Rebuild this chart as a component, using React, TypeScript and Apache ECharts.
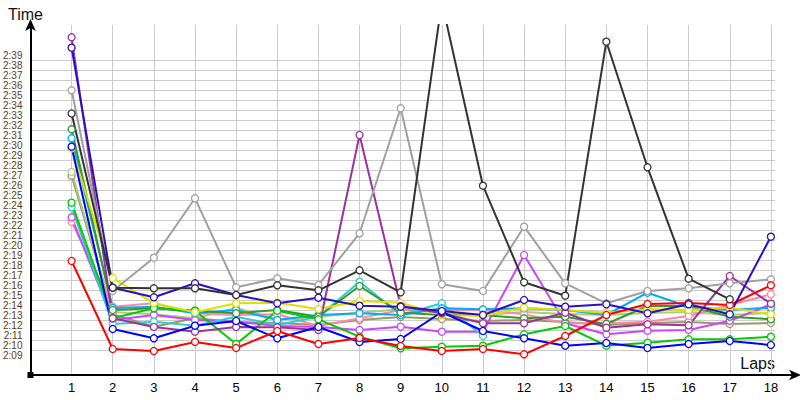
import React, { useEffect, useRef } from "react";
import * as echarts from "echarts";

const laps = [1, 2, 3, 4, 5, 6, 7, 8, 9, 10, 11, 12, 13, 14, 15, 16, 17, 18];

// lap times in seconds
const red = [138.4, 129.6, 129.4, 130.3, 129.7, 131.4, 130.1, 130.7, 129.9, 129.4, 129.6, 129.07, 130.9, 133.0, 134.1, 134.2, 134.0, 135.97];
const blue = [149.83, 131.6, 130.67, 131.93, 132.4, 130.67, 131.8, 130.3, 130.6, 133.3, 131.4, 130.67, 129.93, 130.2, 129.7, 130.1, 130.4, 130.0];
const darkBlue = [159.73, 135.73, 134.77, 136.17, 135.0, 134.17, 134.73, 133.93, 133.83, 133.4, 133.0, 134.5, 133.83, 134.07, 133.17, 134.07, 133.07, 140.83];
const black = [153.15, 135.73, 135.67, 135.67, 135.0, 135.97, 135.47, 137.47, 135.27, 164.3, 145.93, 136.27, 134.93, 160.33, 147.77, 136.63, 134.57, null];
const gray = [155.47, 135.4, 138.73, 144.67, 135.77, 136.67, 136.0, 141.17, 153.67, 136.07, 135.4, 141.83, 136.17, 134.17, 135.4, 135.67, 136.17, 136.57];
const purple = [160.77, 132.67, 131.8, 131.33, 131.8, 131.77, 131.5, 151.0, 133.9, 133.17, 132.17, 132.17, 133.23, 131.73, 132.07, 131.97, 136.9, 134.13];
const violet = [142.77, 132.5, 133.0, 132.5, 132.33, 131.9, 131.8, 131.5, 131.83, 131.33, 131.33, 139.0, 132.17, 131.07, 131.43, 131.5, 132.43, 134.07];
const pink = [142.33, 133.83, 134.17, 133.17, 133.0, 133.07, 131.9, 132.67, 133.5, 133.5, 133.5, 133.07, 132.17, 132.17, 132.33, 132.9, 134.0, 135.07];
const cyan = [143.77, 132.1, 132.33, 131.93, 132.83, 132.0, 132.83, 136.33, 133.0, 134.17, 130.9, null, null, null, null, null, null, null];
const lightBlue = [150.67, 133.7, 133.83, 133.17, 133.5, 132.5, 133.0, 133.17, 133.0, 133.67, 133.57, 133.67, 133.5, 133.0, 135.23, 133.83, 133.5, 133.73];
const yellow = [149.67, 136.7, 134.17, 133.27, 134.17, 134.23, 133.6, 134.4, 134.23, 133.0, 132.9, 133.73, 133.5, 133.23, 133.57, 133.5, 133.73, 133.07];
const darkGreen = [151.57, 133.5, 133.67, 133.43, 133.17, 133.5, 132.83, 135.9, 133.23, 133.0, 133.0, 132.67, 132.83, 132.1, 133.9, 133.9, 132.83, 132.57];
const green = [144.23, 132.67, 133.67, 133.43, 130.1, 133.43, 132.57, 130.83, 129.67, 129.83, 129.93, 131.07, 131.9, 129.93, 130.23, 130.57, 130.57, 130.83];
const lightOlive = [147.3, 133.3, 133.07, 132.67, 133.7, 132.57, 132.83, 133.23, 133.57, 133.2, 133.0, 133.3, 133.1, 133.0, 133.2, 133.3, 133.0, 133.2];
const olive = [146.93, 133.07, 131.83, 132.67, 132.3, 132.2, 132.0, 132.5, 132.8, 132.6, 132.4, 132.5, 132.3, 132.0, 132.2, 132.3, 132.1, 132.2];

const seriesDefs: [string, (number | null)[], string][] = [
  ["Olive", olive, "#999966"],
  ["Light olive", lightOlive, "#b0cc77"],
  ["Pink", pink, "#ff88aa"],
  ["Violet", violet, "#cc44ff"],
  ["Cyan", cyan, "#33cccc"],
  ["Light blue", lightBlue, "#00aaff"],
  ["Dark green", darkGreen, "#339933"],
  ["Green", green, "#00cc00"],
  ["Yellow", yellow, "#e0e000"],
  ["Purple", purple, "#993399"],
  ["Gray", gray, "#a0a0a0"],
  ["Blue", blue, "#0000ff"],
  ["Red", red, "#ff0000"],
  ["Dark blue", darkBlue, "#2a10c0"],
  ["Black", black, "#333333"],
];

const fmt = (v: number) => {
  const m = Math.floor(v / 60);
  const s = Math.round(v - m * 60);
  return m + ":" + String(s).padStart(2, "0");
};

export default function App() {
  const ref = useRef<HTMLDivElement>(null);
  useEffect(() => {
    if (!ref.current) return;
    document.body.style.margin = "0";
    const chart = echarts.init(ref.current, null, { renderer: "svg" });
    const font = "'Liberation Sans', Arial, sans-serif";
    const lapsText = {
      type: "text",
      right: 25,
      top: 355,
      style: { text: "Laps", fill: "#111", font: "16px " + font },
    };
    chart.setOption({
      animation: false,
      backgroundColor: "#ffffff",
      textStyle: { fontFamily: font },
      grid: [
        { left: 30, top: 25, right: 5, bottom: 25 },
        { left: 30, top: 60, width: 745, height: 290 },
      ],
      xAxis: [
        {
          type: "value",
          gridIndex: 0,
          min: 0,
          max: 18.586,
          interval: 1,
          axisLine: {
            show: true,
            lineStyle: { color: "#000", width: 2 },
            symbol: ["none", "arrow"],
            symbolSize: [8, 12],
            symbolOffset: [0, 6],
          },
          axisTick: { show: false },
          axisLabel: {
            fontSize: 13,
            color: "#000",
            margin: 6,
            formatter: (v: number) => (v >= 1 && v <= 18 ? String(v) : ""),
          },
          splitLine: { show: true, showMaxLine: false, lineStyle: { color: "#cccccc", width: 1 } },
        },
        {
          type: "value",
          gridIndex: 1,
          min: 0,
          max: 1,
          show: false,
          splitLine: { show: false },
        },
      ],
      yAxis: [
        {
          type: "value",
          gridIndex: 0,
          min: 127,
          max: 162,
          interval: 1,
          name: "Time",
          nameLocation: "end",
          nameGap: 3,
          nameTextStyle: { fontSize: 16, color: "#111", padding: [0, 10, 0, 0], fontFamily: font },
          axisLine: {
            show: true,
            lineStyle: { color: "#000", width: 2 },
            symbol: ["none", "arrow"],
            symbolSize: [8, 12],
            symbolOffset: [0, 6],
          },
          axisTick: { show: false },
          axisLabel: {
            fontSize: 10,
            color: "#5a4020",
            margin: 8,
            formatter: (v: number) => (v >= 129 && v <= 159 ? fmt(v) : ""),
          },
          splitLine: { show: false },
        },
        {
          type: "value",
          gridIndex: 1,
          min: 0,
          max: 29,
          interval: 1,
          axisLine: { show: false },
          axisTick: { show: false },
          axisLabel: { show: false },
          splitLine: { show: true, lineStyle: { color: "#cccccc", width: 1 } },
        },
      ],
      series: seriesDefs.map(([name, vals, color]) => ({
        name,
        type: "line",
        xAxisIndex: 0,
        yAxisIndex: 0,
        data: laps.map((l, i) => [l, vals[i]]),
        connectNulls: false,
        clip: true,
        symbol: "circle",
        symbolSize: 7,
        showAllSymbol: true,
        lineStyle: { color, width: 2 },
        itemStyle: { color: "#ffffff", borderColor: color, borderWidth: 1.3 },
        emphasis: { disabled: true },
      })),
      graphic: [lapsText],
    });
    const origin = chart.convertToPixel({ xAxisIndex: 0, yAxisIndex: 0 }, [0, 127]);
    if (origin) {
      chart.setOption({
        graphic: [
          lapsText,
          {
            type: "rect",
            shape: { x: origin[0] - 3, y: origin[1] - 3, width: 6, height: 6 },
            style: { fill: "#000" },
            z: 10,
          },
        ],
      });
    }
    return () => chart.dispose();
  }, []);
  return <div ref={ref} style={{ width: 800, height: 400 }} />;
}
